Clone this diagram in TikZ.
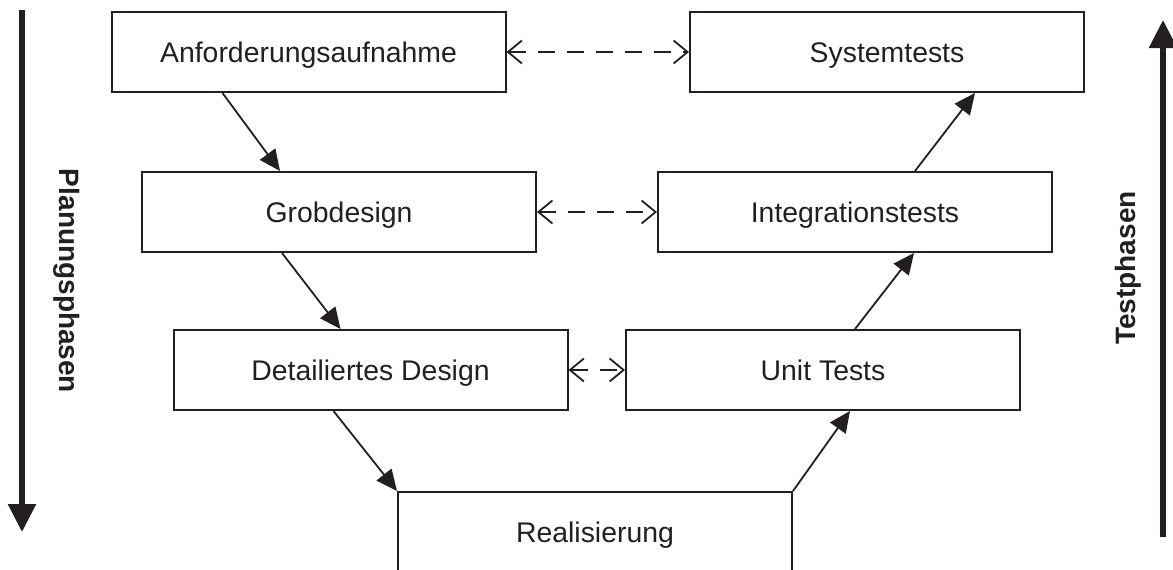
\documentclass[tikz,border=0pt]{standalone}
\usepackage{fontspec}
\setmainfont{Liberation Sans}
\usetikzlibrary{arrows.meta}
\definecolor{ink}{RGB}{35,31,32}
\begin{document}
\begin{tikzpicture}[x=1pt,y=-1pt,
  box/.style={draw=ink, line width=2pt, minimum width=394pt, minimum height=80pt,
    inner sep=0pt, text height=27pt, text depth=6pt,
    font=\fontsize{28.4}{34}\selectfont, text=ink},
  flow/.style={draw=ink, line width=1.8pt, -{Triangle[length=21pt,width=19pt]}},
  link/.style={draw=ink, line width=1.8pt, dash pattern=on 17pt off 12pt,
    {Straight Barb[length=14pt,width=23pt]}-{Straight Barb[length=14pt,width=23pt]}},
  phasearrow/.style={draw=ink, line width=5.5pt, -{Triangle[length=28pt,width=27pt]}},
  phase/.style={font=\bfseries\fontsize{28}{34}\selectfont, text=ink, inner sep=0pt},
  ]
\clip (0,0) rectangle (1173,570);

% planning column (left) and test column (right)
\node[box] (anf)   at (308.5,52) {Anforderungsaufnahme};
\node[box] (grob)  at (339,212)  {Grobdesign};
\node[box] (det)   at (370.5,370) {Detailiertes Design};
\node[box] (real)  at (595,532)  {Realisierung};
\node[box] (unit)  at (823,370)  {Unit Tests};
\node[box] (integ) at (855,212)  {Integrationstests};
\node[box] (sys)   at (887,52)   {Systemtests};

% sequence of phases
\draw[flow] ([xshift=-86pt]anf.south)  -- ([xshift=-59pt]grob.north);
\draw[flow] ([xshift=-57pt]grob.south) -- ([xshift=-30pt]det.north);
\draw[flow] ([xshift=-37pt]det.south)  -- (real.north west);
\draw[flow] (real.north east)          -- ([xshift=27pt]unit.south);
\draw[flow] ([xshift=32pt]unit.north)  -- ([xshift=59pt]integ.south);
\draw[flow] ([xshift=60pt]integ.north) -- ([xshift=88pt]sys.south);

% correspondence between planning and test phases
\draw[link] (anf.east)  -- (sys.west);
\draw[link] (grob.east) -- (integ.west);
\draw[link] (det.east)  -- (unit.west);

% phase direction arrows
\coordinate (planTop) at (22,10);
\coordinate (planEnd) at (22,532);
\coordinate (testBot) at (1163,537);
\coordinate (testEnd) at (1163,20);
\draw[phasearrow] (planTop) -- (planEnd);
\draw[phasearrow] (testBot) -- (testEnd);

\node[phase, rotate=-90] (plan) at (67,281)  {Planungsphasen};
\node[phase, rotate=90]  (test) at (1128,268) {Testphasen};
\end{tikzpicture}
\end{document}
